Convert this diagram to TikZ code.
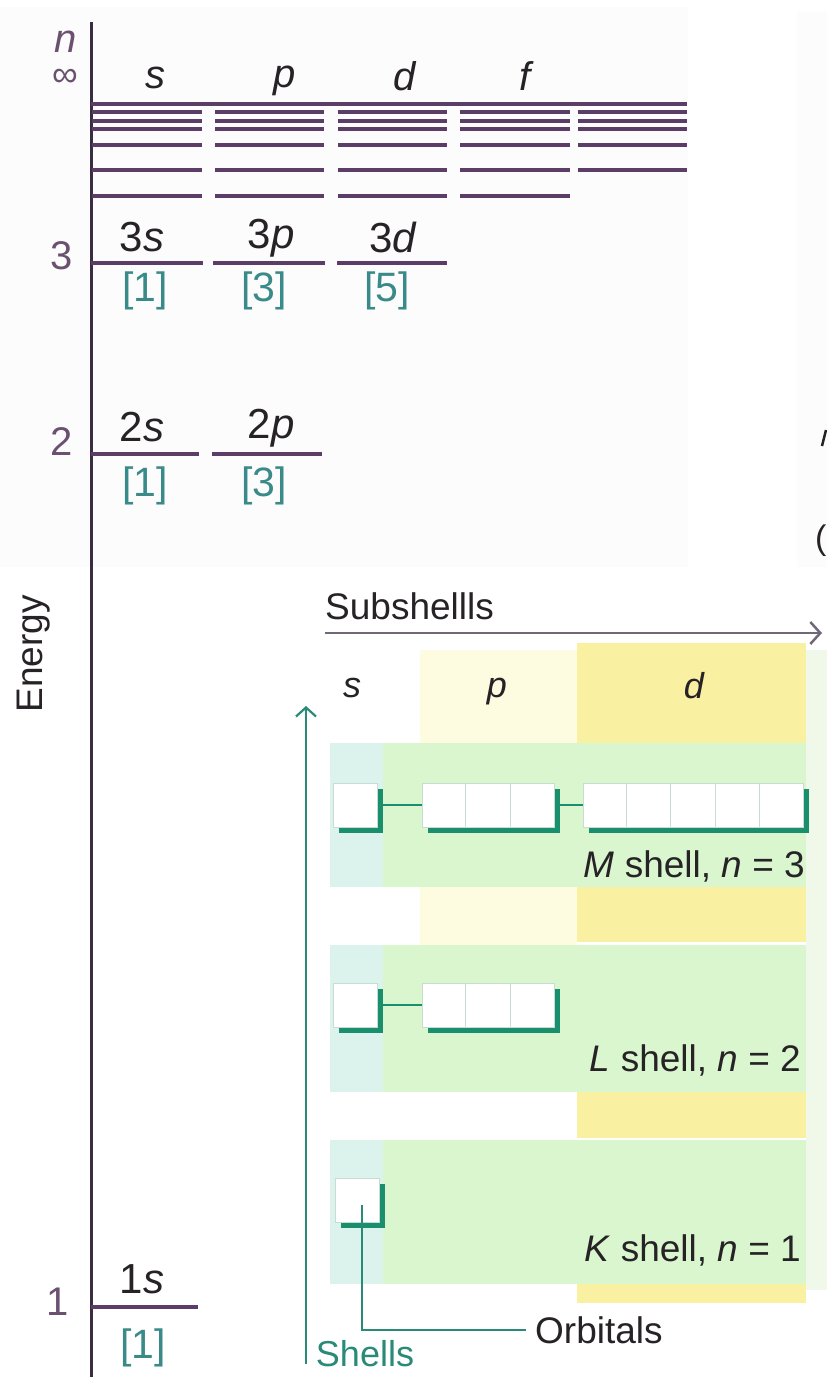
\documentclass[tikz,border=0pt]{standalone}
\usepackage{fontspec}
\setmainfont{Liberation Sans}
\usetikzlibrary{arrows.meta,shadows,calc}

\definecolor{lvl}{HTML}{5B3D68}
\definecolor{axisc}{HTML}{3A2C42}
\definecolor{tickc}{HTML}{6B5070}
\definecolor{degc}{HTML}{3A8A8A}
\definecolor{tealc}{HTML}{1A8F6E}
\definecolor{shellc}{HTML}{2A8A78}
\definecolor{arrc}{HTML}{706878}
\definecolor{bgyel}{HTML}{FAF0A2}
\definecolor{bgyelb}{HTML}{FDFBE0}
\definecolor{bggrn}{HTML}{D9F6CF}
\definecolor{bgcy}{HTML}{DCF2EC}
\definecolor{bgedge}{HTML}{F0F8EA}
\definecolor{panel}{HTML}{FCFCFD}
\definecolor{txt}{HTML}{262226}
\definecolor{cellline}{HTML}{C9DCD2}

\newcommand\fsz[1]{\fontsize{#1}{#1}\selectfont}

\begin{document}
\begin{tikzpicture}[x=1pt,y=-1pt,
  level/.style={draw=lvl,line width=3.2pt},
  lbl/.style={inner sep=0pt,text=txt,font=\fsz{42}},
  deg/.style={inner sep=0pt,text=degc,font=\fsz{41}},
  tick/.style={inner sep=0pt,text=tickc,font=\fsz{40}},
  sub/.style={inner sep=0pt,text=txt,font=\fsz{40}\itshape},
  captext/.style={inner sep=0pt,text=txt,font=\fsz{37}},
  orbbox/.style={draw=cellline,line width=1pt,fill=white,inner sep=0pt,
    minimum height=44pt,
    drop shadow={shadow xshift=5.5pt,shadow yshift=-5.5pt,fill=tealc,opacity=1}},
  cell/.style={draw=cellline,line width=1pt},
  link/.style={draw=tealc,line width=1.6pt},
  leader/.style={draw=shellc,line width=2pt}
]
\useasboundingbox (0,0) rectangle (827,1377);
\fill[white] (0,0) rectangle (827,1377);

% faint page panels
\fill[panel] (0,7) rectangle (688,567);
\fill[panel] (797,12) rectangle (827,567);

% ---------------- energy-level diagram ----------------
\draw[draw=axisc,line width=3pt] (91,22) -- (91,1377);

\node[tick,font=\fsz{40}\itshape] (nlab) at (66,42) {n};
\node[tick,font=\fsz{36}] (inf) at (65,78) {∞};

\node[sub] (cs) at (155,78) {s};
\node[sub] (cp) at (285,81) {p};
\node[sub] (cd) at (405,76) {d};
\node[sub] (cf) at (525,76) {f};

% crowded levels near the ionisation limit
\draw[level] (91,104) -- (687,104);
\foreach \yy in {112,121,129,145,170}{
  \foreach \a/\b in {92/202,215/324,338/447,460/570,578/687}
    \draw[level] (\a,\yy) -- (\b,\yy);
}
\foreach \a/\b in {92/202,215/324,338/447,460/570}
  \draw[level] (\a,196) -- (\b,196);

% n = 3
\node[tick] (t3) at (62,256) {3};
\draw[level] (91,263) -- (203,263);
\draw[level] (213,263) -- (325,263);
\draw[level] (337,263) -- (447,263);
\node[lbl] (l3s) at (142,237) {3\textit{s}};
\node[lbl] (l3p) at (271,238) {3\textit{p}};
\node[lbl] (l3d) at (393,237) {3\textit{d}};
\node[deg] (d3s) at (145,291) {[1]};
\node[deg] (d3p) at (264,291) {[3]};
\node[deg] (d3d) at (387,291) {[5]};

% n = 2
\node[tick] (t2) at (62,442) {2};
\draw[level] (91,454) -- (199,454);
\draw[level] (212,454) -- (322,454);
\node[lbl] (l2s) at (142,427) {2\textit{s}};
\node[lbl] (l2p) at (271,428) {2\textit{p}};
\node[deg] (d2s) at (145,486) {[1]};
\node[deg] (d2p) at (264,486) {[3]};

% n = 1
\node[tick] (t1) at (58,1302) {1};
\draw[level] (91,1307) -- (198,1307);
\node[lbl] (l1s) at (142,1279) {1\textit{s}};
\node[deg] (d1s) at (143,1348) {[1]};

\node[inner sep=0pt,text=txt,font=\fsz{37},rotate=90] (energy) at (34,654) {Energy};

% fragments of neighbouring text at the right edge
\draw[draw=txt,line width=2.5pt] (822,446) -- (826,430);
\node[inner sep=0pt,anchor=west,text=txt,font=\fsz{34}] (edgeP) at (815,541) {(};

% ---------------- shells and subshells ----------------
% pastel backgrounds
\fill[bgyelb] (420,650) rectangle (577,745);
\fill[bgyel] (577,643) rectangle (806,743);
\fill[bgedge] (806,650) rectangle (827,1290);
\fill[bggrn] (330,743) rectangle (806,887);
\fill[bgcy] (330,743) rectangle (383,887);
\fill[bgyelb] (420,887) rectangle (577,945);
\fill[bgyel] (577,887) rectangle (806,942);
\fill[bggrn] (330,945) rectangle (806,1092);
\fill[bgcy] (330,945) rectangle (383,1092);
\fill[bgyel] (577,1092) rectangle (806,1138);
\fill[bgyel] (577,1140) rectangle (806,1303);
\fill[bggrn] (330,1140) rectangle (806,1284);
\fill[bgcy] (330,1140) rectangle (383,1284);

\node[captext,anchor=west] (subs) at (325,606) {Subshellls};
\coordinate (subL) at (325,633);
\coordinate (subR) at (822,633);
\draw[draw=arrc,line width=2pt,-{Straight Barb[length=10pt,width=22pt,line width=2.5pt]}] (subL) -- (subR);

\node[sub,font=\fsz{36}\itshape] (hs) at (352,688) {s};
\node[sub,font=\fsz{36}\itshape] (hp) at (497,692) {p};
\node[sub,font=\fsz{36}\itshape] (hd) at (694,686) {d};

\coordinate (shBot) at (306,1364);
\coordinate (shTop) at (306,706);
\draw[draw=shellc,line width=2.2pt,-{Straight Barb[length=9pt,width=20pt,line width=2.2pt]}] (shBot) -- (shTop);
\node[inner sep=0pt,text=shellc,font=\fsz{36}] (shells) at (365,1354) {Shells};

% M shell
\node[orbbox,minimum width=44pt] (Ms) at (355,805) {};
\node[orbbox,minimum width=132pt] (Mp) at (488,805) {};
\node[orbbox,minimum width=220pt] (Md) at (693,805) {};
\foreach \i in {1,2}
  \draw[cell] ($(Mp.north west)!\i/3!(Mp.north east)$) -- ($(Mp.south west)!\i/3!(Mp.south east)$);
\foreach \i in {1,...,4}
  \draw[cell] ($(Md.north west)!\i/5!(Md.north east)$) -- ($(Md.south west)!\i/5!(Md.south east)$);
\draw[link] (Ms.east) -- (Mp.west);
\draw[link] (Mp.east) -- (Md.west);
\node[captext,anchor=east] (Mlab) at (805,866) {\textit{M} shell, \textit{n} = 3};

% L shell
\node[orbbox,minimum width=44pt] (Ls) at (355,1005) {};
\node[orbbox,minimum width=132pt] (Lp) at (488,1005) {};
\foreach \i in {1,2}
  \draw[cell] ($(Lp.north west)!\i/3!(Lp.north east)$) -- ($(Lp.south west)!\i/3!(Lp.south east)$);
\draw[link] (Ls.east) -- (Lp.west);
\node[captext,anchor=east] (Llab) at (801,1060) {\textit{L} shell, \textit{n} = 2};

% K shell
\node[orbbox,minimum width=44pt] (Ks) at (357,1200) {};
\node[captext,anchor=east] (Klab) at (801,1250) {\textit{K} shell, \textit{n} = 1};

% orbital leader
\node[captext,anchor=west,inner xsep=9pt] (orb) at (526,1330) {Orbitals};
\coordinate (orbTop) at (362,1205);
\draw[leader] (orbTop) |- (orb.west);
\end{tikzpicture}
\end{document}
